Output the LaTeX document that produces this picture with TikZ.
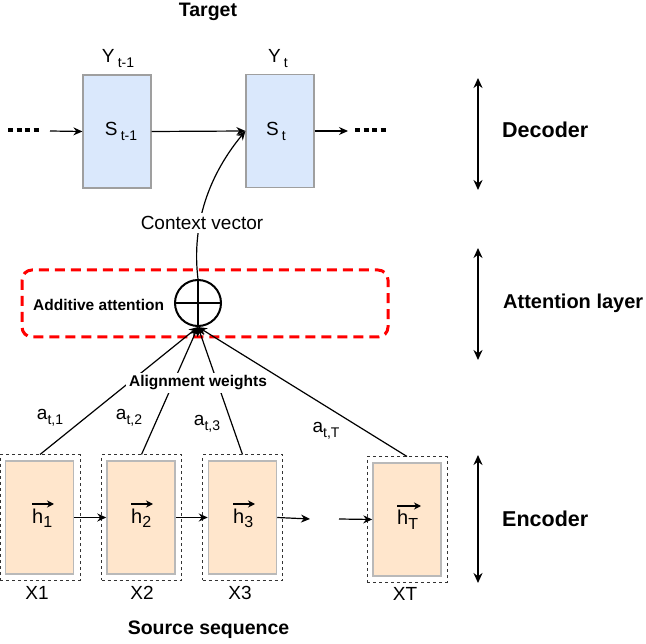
\documentclass[tikz,border=0pt]{standalone}
\usepackage{fontspec}
\setmainfont{Liberation Sans}
\usetikzlibrary{arrows.meta}
\definecolor{decblue}{HTML}{DAE8FC}
\definecolor{encorange}{HTML}{FFE6CC}
\newcommand{\fs}[1]{\fontsize{#1}{#1}\selectfont}
\newcommand{\lsub}[1]{\raisebox{-5pt}{\fs{14}#1}}
\newcommand{\hsub}[1]{h\raisebox{-5pt}{\fs{16}#1}}
\begin{document}
\begin{tikzpicture}[x=1pt,y=-1pt,
  conn/.style={line width=1.2pt,-{Stealth[length=9pt,width=8pt]}},
  vecarr/.style={line width=1.6pt,-{Stealth[length=7pt,width=7pt]}},
  dbl/.style={line width=2pt,{Stealth[length=10pt,width=9pt]}-{Stealth[length=10pt,width=9pt]}},
  decbox/.style={draw=gray!75,fill=decblue,line width=1.2pt,minimum width=68pt,minimum height=113pt,inner sep=0pt},
  encin/.style={draw=gray!55,fill=encorange,line width=1.5pt,minimum width=68pt,minimum height=113pt,inner sep=0pt},
  encout/.style={draw=black!80,dashed,line width=1pt,minimum width=80pt,minimum height=125pt,inner sep=0pt},
  dotline/.style={line width=4.5pt,dash pattern=on 5pt off 3.5pt},
  lbl/.style={inner sep=1pt,font=\fs{19}},
  hlbl/.style={inner sep=0pt,font=\fs{20}},
  bold/.style={inner sep=1pt,font=\fs{19.5}\bfseries},
  side/.style={inner sep=0pt,anchor=west},
  wlbl/.style={fill=white,inner sep=3pt}]
\useasboundingbox (0,0) rectangle (646,644);

% titles
\node[bold] (target) at (208,12) {Target};
\node[bold] (source) at (208.5,630) {Source sequence};

% decoder
\node[decbox] (Sp) at (117,131.5) {};
\node[lbl] (Sptext) at (121,131) {S\,\lsub{t-1}};
\node[decbox] (St) at (280,131) {};
\node[lbl] (Sttext) at (276,131) {S\,\lsub{t}};
\node[lbl] (Yp) at (118,59) {Y\,\lsub{t-1}};
\node[lbl] (Yt) at (278,59) {Y\,\lsub{t}};

\coordinate (ld1) at (8,130);
\coordinate (ld2) at (40,130);
\coordinate (la) at (50,131);
\coordinate (ra) at (348,131);
\coordinate (rd1) at (355,130);
\coordinate (rd2) at (387,130);
\draw[dotline] (ld1) -- (ld2);
\draw[dotline] (rd1) -- (rd2);
\draw[conn] (la) -- (Sp.west);
\draw[conn] (Sp.east) -- (St.west);
\draw[conn] (St.east) -- (ra);

% attention layer
\draw[red,line width=3pt,dash pattern=on 10pt off 6pt,rounded corners=10pt] (22,270) rectangle (388,337);
\node[inner sep=0pt,anchor=west,font=\fs{15.5}\bfseries] (addatt) at (33,305) {Additive attention};
\node[circle,draw,line width=2pt,minimum size=46pt,inner sep=0pt] (sum) at (198,303) {};
\draw[line width=2pt] (sum.north) -- (sum.south) (sum.west) -- (sum.east);

% context curve
\draw[conn] (sum.north) .. controls (192,230) and (205,180) .. (St.west);
\node[wlbl,font=\fs{19}] (ctx) at (202,223) {Context vector};

% encoder
\node[encout] (e1o) at (40,517.5) {};
\node[encin] (e1) at (39.5,517.5) {};
\node[encout] (e2o) at (141.5,517.5) {};
\node[encin] (e2) at (141,517.5) {};
\node[encout] (e3o) at (242.5,517.5) {};
\node[encin] (e3) at (242.5,517.5) {};
\node[encout] (eTo) at (407,519.5) {};
\node[encin] (eT) at (407,519.5) {};
\node[hlbl,anchor=base west] (h1) at (32,523) {\hsub{1}};
\node[hlbl,anchor=base west] (h2) at (131,523) {\hsub{2}};
\node[hlbl,anchor=base west] (h3) at (233,523) {\hsub{3}};
\node[hlbl,anchor=base west] (hT) at (397,525) {\hsub{T}};
\coordinate (v1a) at (32,504); \coordinate (v1b) at (54,504);
\coordinate (v2a) at (131,504); \coordinate (v2b) at (153,504);
\coordinate (v3a) at (233,504); \coordinate (v3b) at (255,504);
\coordinate (vTa) at (397,506); \coordinate (vTb) at (421,506);
\draw[vecarr] (v1a) -- (v1b);
\draw[vecarr] (v2a) -- (v2b);
\draw[vecarr] (v3a) -- (v3b);
\draw[vecarr] (vTa) -- (vTb);

\coordinate (e3r) at (310,519);
\coordinate (eTl) at (339,519);
\draw[conn] (e1.east) -- (e2.west);
\draw[conn] (e2.east) -- (e3.west);
\draw[conn] (e3.east) -- (e3r);
\draw[conn] (eTl) -- (eT.west);

\node[lbl] (x1) at (37,593) {X1};
\node[lbl] (x2) at (142,593) {X2};
\node[lbl] (x3) at (240,593) {X3};
\node[lbl] (xT) at (405,594) {XT};

% alignment
\draw[conn] (e1o.north) -- (sum.south);
\draw[conn] (e2o.north) -- (sum.south);
\draw[conn] (e3o.north) -- (sum.south);
\draw[conn] (eTo.north) -- (sum.south);
\node[wlbl,font=\fs{15.5}\bfseries] (align) at (198,383) {Alignment weights};
\node[lbl] (a1) at (50,418) {a\lsub{t,1}};
\node[lbl] (a2) at (129,418) {a\lsub{t,2}};
\node[lbl] (a3) at (207,424) {a\lsub{t,3}};
\node[lbl] (aT) at (326,431) {a\lsub{t,T}};

% side arrows
\coordinate (d1) at (478,78);
\coordinate (d2) at (478,190);
\coordinate (m1) at (478,248);
\coordinate (m2) at (478,360);
\coordinate (n1) at (478,455);
\coordinate (n2) at (478,583);
\draw[dbl] (d1) -- (d2);
\draw[dbl] (m1) -- (m2);
\draw[dbl] (n1) -- (n2);
\node[side,font=\fs{21.5}\bfseries] (dec) at (502,130) {Decoder};
\node[side,font=\fs{20}\bfseries] (att) at (503,303) {Attention layer};
\node[side,font=\fs{21.5}\bfseries] (enc) at (502,519) {Encoder};
\end{tikzpicture}
\end{document}
